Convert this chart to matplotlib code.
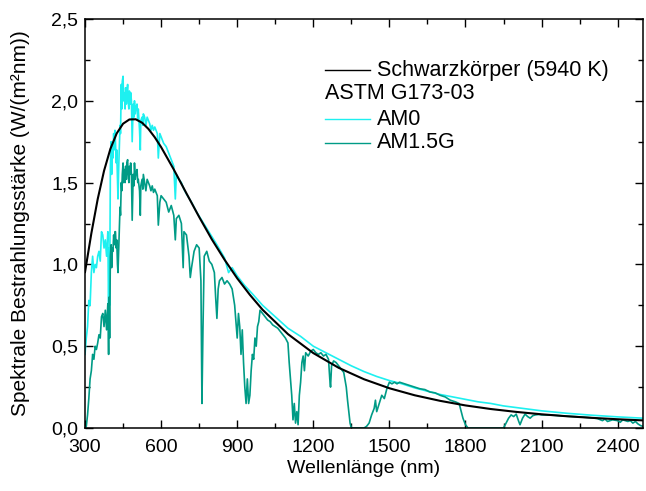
import matplotlib
matplotlib.use("Agg")
import matplotlib.pyplot as plt
from matplotlib.ticker import MultipleLocator, FuncFormatter

plt.rcParams['font.family'] = ['Liberation Sans', 'DejaVu Sans']

# Schwarzkörper 5940 K
bb_wl = [300, 325, 350, 375, 400, 425, 450, 475, 500, 525, 550, 575, 600, 650, 700,
         750, 800, 850, 900, 950, 1000, 1100, 1200, 1300, 1400, 1500, 1600, 1700,
         1800, 1900, 2000, 2100, 2200, 2300, 2400, 2500]
bb_val = [0.953, 1.190, 1.399, 1.572, 1.706, 1.801, 1.860, 1.886, 1.887, 1.866, 1.828,
          1.777, 1.717, 1.580, 1.434, 1.290, 1.153, 1.029, 0.915, 0.814, 0.723, 0.574,
          0.458, 0.368, 0.298, 0.243, 0.200, 0.166, 0.138, 0.116, 0.0985, 0.0838,
          0.0718, 0.0619, 0.0535, 0.0465]

# ASTM G173-03 AM0
am0_wl = [300, 305, 310, 315, 320, 325, 330, 335, 340, 345, 350, 355, 360, 365, 370,
          375, 380, 385, 390, 393, 395, 397, 400, 403, 405, 408, 410, 413, 415, 418,
          420, 423, 425, 428, 430, 433, 435, 438, 440, 443, 445, 447, 450, 452, 455,
          458, 460, 463, 465, 468, 470, 473, 475, 478, 480, 483, 486, 490, 493, 495,
          498, 500, 505, 508, 510, 515, 518, 520, 525, 528, 530, 535, 540, 545, 550,
          555, 560, 565, 570, 575, 580, 585, 589, 595, 600, 610, 620, 630, 640, 650,
          656, 660, 670, 680, 690, 700, 720, 740, 760, 780, 800, 820, 850, 866, 880,
          900, 930, 960, 1000, 1050, 1100, 1150, 1200, 1250, 1300, 1350, 1400, 1450,
          1500, 1550, 1600, 1650, 1700, 1750, 1800, 1850, 1900, 1950, 2000, 2100, 2200,
          2300, 2400, 2500]
am0_val = [0.45, 0.55, 0.62, 0.78, 0.75, 0.95, 1.05, 0.95, 1.00, 0.98, 1.05, 1.08, 1.02,
           1.20, 1.18, 1.10, 1.15, 1.05, 1.20, 0.70, 1.10, 0.75, 1.60, 1.75, 1.55, 1.72,
           1.65, 1.80, 1.70, 1.82, 1.75, 1.62, 1.70, 1.52, 1.40, 1.60, 1.70, 1.85, 1.80,
           2.10, 1.95, 2.12, 2.15, 2.00, 2.05, 1.95, 2.08, 1.98, 2.05, 2.10, 2.00, 1.95,
           2.06, 1.98, 2.05, 2.00, 1.75, 1.98, 1.90, 2.00, 1.92, 1.95, 1.98, 1.88, 1.95,
           1.82, 1.70, 1.88, 1.90, 1.85, 1.92, 1.90, 1.85, 1.90, 1.88, 1.86, 1.82, 1.85,
           1.82, 1.84, 1.82, 1.80, 1.65, 1.80, 1.78, 1.74, 1.72, 1.68, 1.64, 1.60, 1.40,
           1.55, 1.52, 1.50, 1.46, 1.43, 1.38, 1.32, 1.27, 1.22, 1.17, 1.12, 1.04, 0.95,
           0.98, 0.93, 0.87, 0.82, 0.75, 0.68, 0.61, 0.56, 0.50, 0.46, 0.42, 0.38, 0.345,
           0.315, 0.29, 0.27, 0.245, 0.225, 0.205, 0.19, 0.175, 0.16, 0.15, 0.135, 0.125,
           0.105, 0.09, 0.078, 0.068, 0.06]

# ASTM G173-03 AM1.5G
am15_wl = [300, 305, 310, 315, 320, 325, 330, 335, 340, 345, 350, 355, 360, 365, 370,
           375, 380, 385, 390, 393, 395, 397, 400, 403, 405, 408, 410, 413, 415, 418,
           420, 423, 425, 428, 430, 433, 435, 438, 440, 443, 445, 447, 450, 452, 455,
           458, 460, 463, 465, 468, 470, 473, 475, 478, 480, 483, 486, 490, 493, 495,
           498, 500, 505, 508, 510, 515, 518, 520, 525, 528, 530, 535, 540, 545, 550,
           555, 560, 565, 570, 575, 580, 585, 589, 595, 600, 610, 620, 630, 640, 650,
           656, 660, 670, 680, 687, 690, 700, 710, 715, 720, 730, 740, 750, 757, 761,
           765, 770, 780, 790, 800, 810, 815, 820, 825, 830, 840, 850, 860, 870, 880,
           890, 900, 905, 910, 915, 920, 925, 930, 935, 940, 945, 950, 955, 960, 965,
           970, 975, 980, 985, 990, 1000, 1010, 1020, 1030, 1040, 1050, 1060, 1070, 1080,
           1090, 1100, 1105, 1110, 1115, 1120, 1125, 1130, 1135, 1140, 1145, 1150, 1155,
           1160, 1165, 1170, 1180, 1190, 1200, 1210, 1220, 1230, 1240, 1250, 1260, 1265,
           1268, 1272, 1280, 1290, 1300, 1310, 1320, 1330, 1335, 1340, 1345, 1350, 1400,
           1410, 1420, 1430, 1440, 1445, 1450, 1460, 1470, 1480, 1490, 1500, 1510, 1520,
           1530, 1540, 1560, 1580, 1600, 1620, 1640, 1660, 1680, 1700, 1720, 1740, 1760,
           1775, 1790, 1800, 1810, 1950, 1960, 1970, 1980, 1990, 2000, 2010, 2015, 2025,
           2035, 2045, 2055, 2065, 2075, 2090, 2100, 2150, 2200, 2250, 2300, 2320, 2340,
           2350, 2360, 2380, 2400, 2410, 2420, 2440, 2450, 2460, 2470, 2480, 2490, 2500]
am15_val = [0.0, 0.01, 0.08, 0.18, 0.30, 0.35, 0.45, 0.42, 0.50, 0.48, 0.52, 0.57, 0.55,
            0.68, 0.70, 0.62, 0.72, 0.60, 0.76, 0.45, 0.80, 0.55, 1.05, 1.12, 0.98, 1.10,
            1.08, 1.18, 1.12, 1.20, 1.20, 1.10, 1.15, 1.00, 0.95, 1.10, 1.20, 1.35, 1.30,
            1.50, 1.45, 1.55, 1.62, 1.50, 1.58, 1.50, 1.60, 1.52, 1.62, 1.64, 1.55, 1.50,
            1.60, 1.55, 1.62, 1.55, 1.27, 1.55, 1.48, 1.62, 1.52, 1.55, 1.58, 1.50, 1.52,
            1.45, 1.30, 1.48, 1.52, 1.46, 1.55, 1.50, 1.45, 1.52, 1.50, 1.48, 1.45, 1.48,
            1.44, 1.46, 1.44, 1.42, 1.24, 1.38, 1.42, 1.40, 1.38, 1.32, 1.36, 1.30, 1.15,
            1.28, 1.30, 1.25, 0.98, 1.20, 1.18, 1.05, 0.92, 0.98, 1.08, 1.12, 1.10, 0.90,
            0.15, 0.60, 1.05, 1.08, 1.02, 1.00, 0.95, 0.80, 0.67, 0.85, 0.90, 0.92, 0.88,
            0.90, 0.88, 0.85, 0.75, 0.55, 0.70, 0.62, 0.45, 0.60, 0.40, 0.25, 0.15, 0.30,
            0.15, 0.20, 0.35, 0.45, 0.42, 0.55, 0.50, 0.62, 0.65, 0.72, 0.70, 0.68, 0.66,
            0.65, 0.63, 0.62, 0.61, 0.59, 0.57, 0.55, 0.52, 0.40, 0.30, 0.20, 0.05, 0.15,
            0.03, 0.10, 0.02, 0.20, 0.28, 0.40, 0.44, 0.35, 0.46, 0.44, 0.47, 0.48, 0.46,
            0.45, 0.46, 0.44, 0.45, 0.42, 0.30, 0.25, 0.38, 0.41, 0.40, 0.38, 0.36, 0.34,
            0.25, 0.17, 0.10, 0.03, 0.0, 0.0, 0.01, 0.03, 0.08, 0.12, 0.17, 0.10, 0.15,
            0.20, 0.18, 0.24, 0.28, 0.27, 0.28, 0.27, 0.28, 0.27, 0.26, 0.25, 0.24, 0.235,
            0.22, 0.215, 0.20, 0.19, 0.17, 0.16, 0.15, 0.06, 0.02, 0.0, 0.0, 0.03, 0.06,
            0.08, 0.07, 0.085, 0.04, 0.02, 0.06, 0.085, 0.07, 0.06, 0.075, 0.08, 0.083,
            0.08, 0.078, 0.072, 0.068, 0.062, 0.058, 0.045, 0.055, 0.04, 0.05, 0.045,
            0.035, 0.05, 0.04, 0.045, 0.03, 0.04, 0.025, 0.015, 0.01]

c_am0 = '#1ef0f0'
c_am15 = '#009b86'

fig = plt.figure(figsize=(6.46, 4.91), dpi=100)
ax = fig.add_axes([0.1316, 0.1283, 0.8638, 0.833])

ax.plot(am0_wl, am0_val, color=c_am0, lw=1.2)
ax.plot(am15_wl, am15_val, color=c_am15, lw=1.2)
ax.plot(bb_wl, bb_val, color='black', lw=1.5)

ax.set_xlim(300, 2500)
ax.set_ylim(0, 2.5)
ax.xaxis.set_major_locator(MultipleLocator(300))
ax.xaxis.set_minor_locator(MultipleLocator(150))
ax.yaxis.set_major_locator(MultipleLocator(0.5))
ax.yaxis.set_minor_locator(MultipleLocator(0.25))
ax.yaxis.set_major_formatter(FuncFormatter(lambda v, p: f"{v:.1f}".replace('.', ',')))
ax.tick_params(which='both', direction='in', top=True, right=True, labelsize=14, width=1.0)
ax.tick_params(which='major', length=6)
ax.tick_params(which='minor', length=3.5)
ax.tick_params(axis='x', which='both', pad=8)
ax.tick_params(axis='y', which='both', pad=5)
for s in ax.spines.values():
    s.set_linewidth(1.1)

ax.set_xlabel('Wellenlänge (nm)', fontsize=14, labelpad=3)
ax.set_ylabel('Spektrale Bestrahlungsstärke (W/(m²nm))', fontsize=15, labelpad=15)

# Legende von Hand, wie im Original
rows = [('Schwarzkörper (5940 K)', 'black', 0.875),
        ('AM0', c_am0, 0.755),
        ('AM1.5G', c_am15, 0.697)]
for label, col, yy in rows:
    ax.plot([0.430, 0.511], [yy, yy], color=col, lw=1.0, transform=ax.transAxes)
    ax.text(0.523, yy, label, transform=ax.transAxes, fontsize=15.5, va='center')
ax.text(0.430, 0.819, 'ASTM G173-03', transform=ax.transAxes, fontsize=15.5, va='center')

fig.savefig('out.png', dpi=100)
